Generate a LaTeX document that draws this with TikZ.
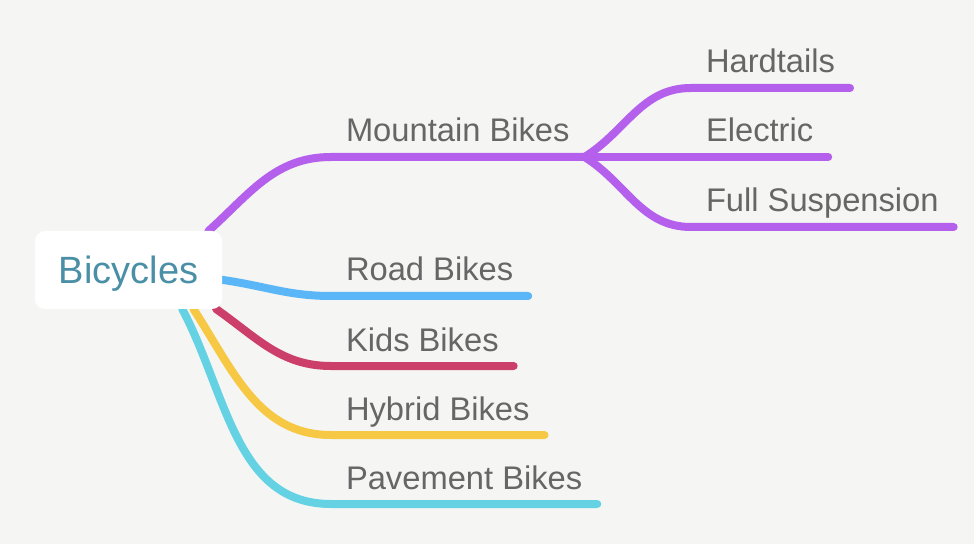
\documentclass[tikz,border=0pt]{standalone}
\usepackage{fontspec}
\setmainfont{Liberation Sans}
\definecolor{bgcol}{HTML}{F5F6F4}
\definecolor{rootcol}{HTML}{4A8FA6}
\definecolor{labelcol}{HTML}{666666}
\definecolor{mtbcol}{HTML}{B460EC}
\definecolor{roadcol}{HTML}{5AB6F7}
\definecolor{kidscol}{HTML}{CC3F6B}
\definecolor{hybcol}{HTML}{F6C843}
\definecolor{pavecol}{HTML}{64D2E2}
\pgfdeclarelayer{background}%
\pgfdeclarelayer{lines}%
\pgfsetlayers{background,lines,main}%
\begin{document}
\begin{tikzpicture}[x=1pt,y=1pt,
    every node/.style={outer sep=0pt},
    topic/.style={fill=white,rounded corners=10pt,minimum width=187pt,
      minimum height=78pt,inner sep=0pt,text depth=0pt,text=rootcol,
      font=\fontsize{38}{38}\selectfont},
    branch/.style={anchor=south west,inner xsep=15pt,inner ysep=15pt,
      text depth=0pt,text=labelcol,font=\fontsize{32.7}{33}\selectfont},
    link/.style={line width=8pt,line cap=round}] %
    \useasboundingbox (0,0) rectangle (974,544);%
    \begin{pgfonlayer}{background}%
      \fill[bgcol] (0,0) rectangle (974,544);%
    \end{pgfonlayer}%

    % central topic
    \node[topic] (bike) at (128.5,274) {Bicycles};%

    % main branches, label sits on its own underline
    \node[branch] (mtb) at (331,387) {Mountain Bikes};%
    \node[branch] (road) at (331,248) {Road Bikes};%
    \node[branch] (kids) at (331,178) {Kids Bikes};%
    \node[branch] (hybrid) at (331,109) {Hybrid Bikes};%
    \node[branch] (pave) at (331,40) {Pavement Bikes};%

    % sub branches of mountain bikes
    \node[branch] (hard) at (691,456) {Hardtails};%
    \node[branch] (elec) at (691,387) {Electric};%
    \node[branch] (full) at (691,317) {Full Suspension};%

    \begin{pgfonlayer}{lines}%
      \draw[link,mtbcol] (bike.26) to[out=42,in=180] (mtb.south west)
        -- (mtb.south east);%
      \draw[link,roadcol] (bike.-6) to[out=-8,in=180] (road.south west)
        -- (road.south east);%
      \draw[link,kidscol] (bike.-24) to[out=-35,in=180] (kids.south west)
        -- (kids.south east);%
      \draw[link,hybcol] (bike.-31) to[out=-57,in=180] (hybrid.south west)
        -- (hybrid.south east);%
      \draw[link,pavecol] (bike.-36) to[out=-62,in=180] (pave.south west)
        -- (pave.south east);%

      \draw[link,mtbcol] (mtb.south east) to[out=32,in=180] (hard.south west)
        -- (hard.south east);%
      \draw[link,mtbcol] (mtb.south east) -- (elec.south west)
        -- (elec.south east);%
      \draw[link,mtbcol] (mtb.south east) to[out=-32,in=180] (full.south west)
        -- (full.south east);%
    \end{pgfonlayer}%
  \end{tikzpicture}
\end{document}
